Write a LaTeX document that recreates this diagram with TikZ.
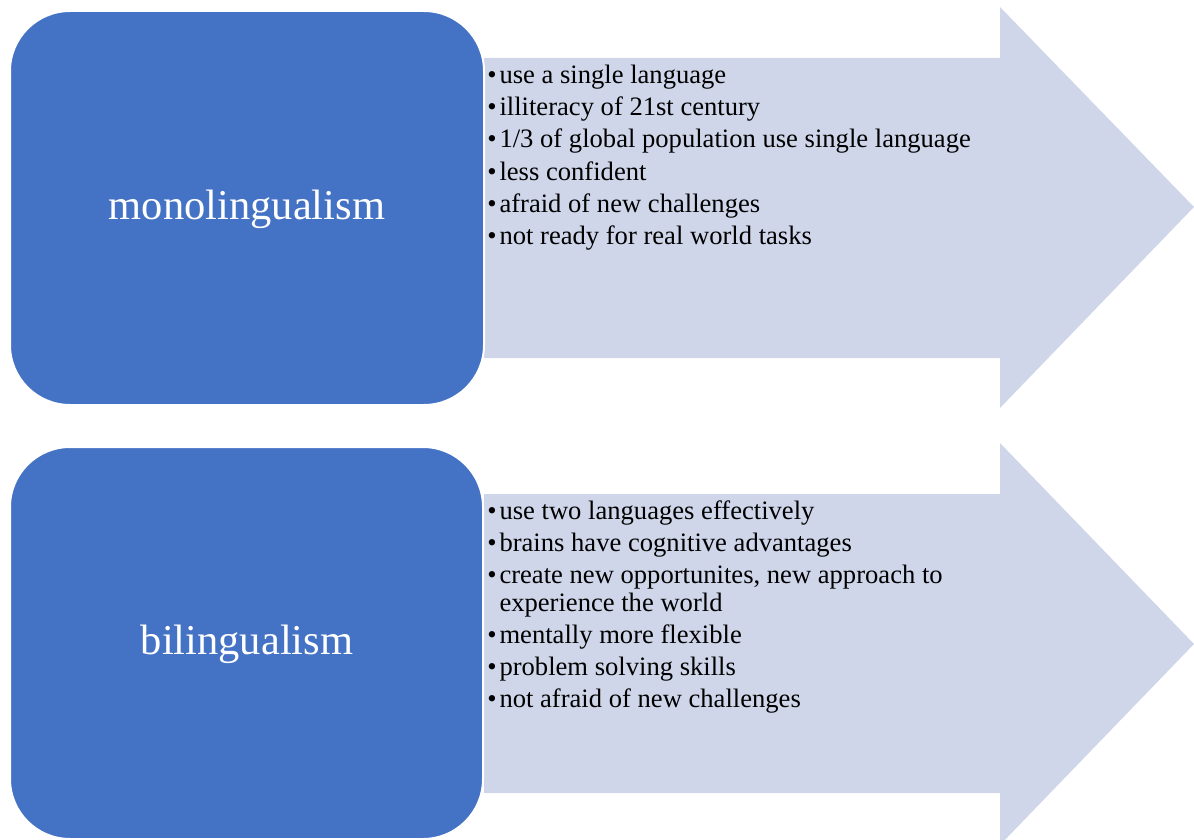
\documentclass[tikz,border=0pt]{standalone}
\usepackage{fontspec}
\setmainfont{Liberation Serif}
\definecolor{boxblue}{HTML}{4472C4}
\definecolor{arrowfill}{HTML}{D0D6EA}
\newcommand{\bul}{\textbullet\hspace{1.4pt}}
\begin{document}
\begin{tikzpicture}[x=0.5pt,y=-0.5pt,
  topic/.style={fill=boxblue, draw=white, line width=1pt, rounded corners=30pt},
  arrowshape/.style={fill=arrowfill},
  label/.style={text=white, inner sep=0pt, font=\fontsize{21.25}{25}\selectfont},
  item/.style={anchor=base west, inner sep=0pt, font=\fontsize{13.3}{16}\selectfont}]
\useasboundingbox (0,0) rectangle (1194,840);

% top row
\path[arrowshape] (484,58) -- (1000,58) -- (1000,7) -- (1194,207) -- (1000,408) -- (1000,358) -- (484,358) -- cycle;
\path[topic] (10,11) rectangle (484,405);
\node[label] (mono) at (247,209) {monolingualism};
\node[item] (m1) at (487,83.5) {\bul use a single language};
\node[item] (m2) at (487,115.7) {\bul illiteracy of 21st century};
\node[item] (m3) at (487,147.9) {\bul 1/3 of global population use single language};
\node[item] (m4) at (487,180.1) {\bul less confident};
\node[item] (m5) at (487,212.3) {\bul afraid of new challenges};
\node[item] (m6) at (487,244.5) {\bul not ready for real world tasks};

% bottom row
\path[arrowshape] (484,494) -- (1000,494) -- (1000,443) -- (1194,644) -- (1000,845) -- (1000,793) -- (484,793) -- cycle;
\path[topic] (10,447) rectangle (483,839);
\node[label] (bili) at (247,644) {bilingualism};
\node[item] (b1) at (487,519.5) {\bul use two languages effectively};
\node[item] (b2) at (487,551.5) {\bul brains have cognitive advantages};
\node[item] (b3) at (487,583.5) {\bul create new opportunites, new approach to};
\node[item] (b3b) at (487,611.5) {\phantom{\bul}experience the world};
\node[item] (b4) at (487,643.5) {\bul mentally more flexible};
\node[item] (b5) at (487,675.5) {\bul problem solving skills};
\node[item] (b6) at (487,707.5) {\bul not afraid of new challenges};
\end{tikzpicture}
\end{document}
